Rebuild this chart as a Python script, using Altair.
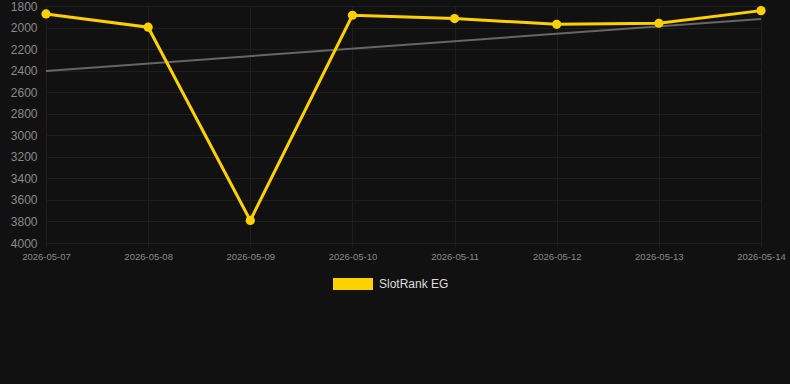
import altair as alt
import pandas as pd

dates = ["2026-05-07", "2026-05-08", "2026-05-09", "2026-05-10",
         "2026-05-11", "2026-05-12", "2026-05-13", "2026-05-14"]
ranks = [1874, 1997, 3790, 1886, 1917, 1970, 1960, 1843]
series_name = "SlotRank EG"
trend_dates = ["2026-05-07", "2026-05-14"]
trend_values = [2403, 1920]
y_ticks = [1800, 2000, 2200, 2400, 2600, 2800, 3000, 3200, 3400, 3600, 3800, 4000]

df = pd.DataFrame({"date": dates, "rank": ranks, "series": series_name})
tf = pd.DataFrame({"date": trend_dates, "rank": trend_values})

GOLD = "#FFD000"

xscale = alt.Scale(type="point", domain=dates, range=[6, 721], padding=0)
yscale = alt.Scale(domain=[1800, 4000], reverse=True, nice=False)
cscale = alt.Scale(domain=[series_name], range=[GOLD])

xaxis = alt.Axis(title=None, labelAngle=0, labelOverlap=False)
yaxis = alt.Axis(title=None, values=y_ticks, format="d", labelOverlap=False)

trend = alt.Chart(tf).mark_line(color="#666666", strokeWidth=2).encode(
    x=alt.X("date:O", scale=xscale, axis=xaxis),
    y=alt.Y("rank:Q", scale=yscale, axis=yaxis),
)

color = alt.Color("series:N", scale=cscale,
                  legend=alt.Legend(title=None, orient="none", legendX=293, legendY=258,
                                    symbolType="M-1,-0.3H1V0.3H-1Z", symbolSize=1600,
                                    symbolFillColor=GOLD, symbolStrokeWidth=0,
                                    labelColor="#dddddd", labelFontSize=12,
                                    labelOffset=6))

line = alt.Chart(df).mark_line(strokeWidth=3).encode(
    x=alt.X("date:O", scale=xscale, axis=xaxis),
    y=alt.Y("rank:Q", scale=yscale, axis=yaxis),
    color=color,
)
pts = alt.Chart(df).mark_circle(size=85, opacity=1).encode(
    x=alt.X("date:O", scale=xscale, axis=xaxis),
    y=alt.Y("rank:Q", scale=yscale, axis=yaxis),
    color=alt.Color("series:N", scale=cscale, legend=None),
)

chart = alt.layer(trend, line, pts).properties(
    width=750, height=237,
    background="#111111",
    padding={"left": 40, "top": 6, "right": 0, "bottom": 141},
    autosize=alt.AutoSizeParams(type="none"),
).configure(
    font="Liberation Sans",
).configure_view(
    stroke=None,
).configure_axis(
    domain=False, grid=True, gridColor="#1e1e1e", labelColor="#8a8a8a",
).configure_axisX(
    labelFontSize=9.5, tickSize=4, tickColor="#1e1e1e", labelPadding=4,
).configure_axisY(
    labelFontSize=12, ticks=False, labelPadding=3,
)

chart.save("out.html", embed_options={"renderer": "svg", "actions": False})
